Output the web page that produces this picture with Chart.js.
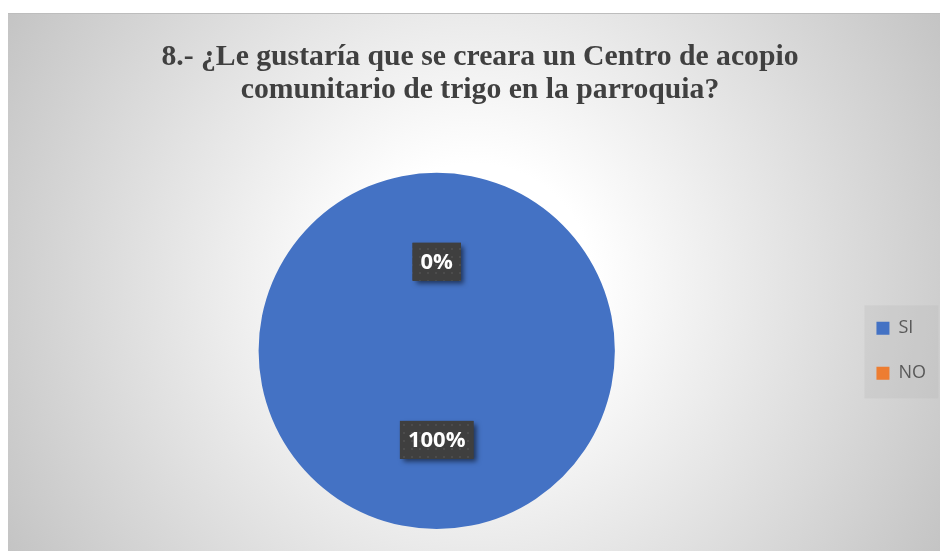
<!DOCTYPE html>
<html lang="es">
<head>
<meta charset="utf-8">
<title>Centro de acopio comunitario de trigo</title>
<script src="https://cdn.jsdelivr.net/npm/chart.js@4.4.1/dist/chart.umd.min.js"></script>
<style>
  html, body { margin: 0; padding: 0; background: #fff; }
  body { width: 940px; height: 551px; position: relative; overflow: hidden; }
  .chart-box {
    position: absolute; left: 8px; top: 13px; width: 932px; height: 538px;
    background: radial-gradient(circle farthest-corner at 50% 50%, #ffffff 0%, #ffffff 22%, #c4c4c4 100%);
    box-shadow: inset 0 1px 0 #bdbdbd;
  }
  canvas { display: block; }
</style>
</head>
<body>
<div class="chart-box">
  <canvas id="chartPie" width="932" height="538"></canvas>
</div>

<script>
/* ===== Data ===== */
const TITLE_LINES = ['8.- ¿Le gustaría que se creara un Centro de acopio', 'comunitario de trigo en la parroquia?'];
const CATEGORIES  = ['SI', 'NO'];
const VALUES      = [100, 0];
const COLORS      = ['#4472C4', '#ED7D31'];


/* ===== Dotted label background pattern ===== */
function makeDotPattern(ctx) {
  const p = document.createElement('canvas');
  p.width = 8; p.height = 8;
  const pc = p.getContext('2d');
  pc.fillStyle = '#3f3f3f';
  pc.fillRect(0, 0, 8, 8);
  pc.fillStyle = '#4c4c4c';
  pc.fillRect(3, 3, 2, 2);
  return ctx.createPattern(p, 'repeat');
}


/* ===== Plugin: legend frame ===== */
const legendFrame = {
  id: 'legendFrame',
  beforeDraw(chart) {
    const lg = chart.legend;
    if (!lg || !lg.legendHitBoxes.length) {return;}
    const boxes = lg.legendHitBoxes;
    const first = boxes[0];
    const last  = boxes[boxes.length - 1];
    const { ctx } = chart;
    ctx.save();
    ctx.fillStyle = 'rgba(180,180,180,0.25)';
    ctx.fillRect(first.left - 12, first.top - 14, 74, (last.top + last.height) - first.top + 30);
    ctx.restore();
  },
};


/* ===== Plugin: data labels (value + %) ===== */
const pctLabels = {
  id: 'pctLabels',
  afterDatasetsDraw(chart) {
    const { ctx } = chart;
    const meta = chart.getDatasetMeta(0);
    const total = VALUES.reduce((a, b) => a + b, 0);
    const pattern = makeDotPattern(ctx);
    ctx.save();
    ctx.font = 'bold 22px "Open Sans", sans-serif';
    ctx.textAlign = 'center';
    ctx.textBaseline = 'middle';
    meta.data.forEach((arc, i) => {
      const pos = arc.tooltipPosition();
      const txt = Math.round(VALUES[i] / total * 100) + '%';
      const w = ctx.measureText(txt).width + 16;
      const h = 38;
      const x = pos.x - w / 2;
      const y = pos.y - h / 2;
      ctx.save();
      ctx.shadowColor = 'rgba(0,0,0,0.55)';
      ctx.shadowBlur = 5;
      ctx.shadowOffsetX = 3;
      ctx.shadowOffsetY = 3;
      ctx.fillStyle = '#404040';
      ctx.fillRect(x, y, w, h);
      ctx.restore();
      ctx.fillStyle = pattern;
      ctx.fillRect(x, y, w, h);
      ctx.fillStyle = '#ffffff';
      ctx.fillText(txt, pos.x, pos.y + 1);
    });
    ctx.restore();
  },
};


/* ===== Chart ===== */
new Chart(document.getElementById('chartPie').getContext('2d'), {
  type: 'pie',
  data: {
    labels: CATEGORIES,
    datasets: [{
      data: VALUES,
      backgroundColor: COLORS,
      borderWidth: 0,
    }],
  },
  options: {
    responsive: false,
    animation: false,
    layout: { padding: { left: 16, right: 4, top: 0, bottom: 22 } },
    plugins: {
      title: {
        display: true,
        text: TITLE_LINES,
        color: '#404040',
        font: { family: '"Liberation Serif", "Times New Roman", serif', size: 29.7, weight: 'bold', lineHeight: 1.14 },
        padding: { top: 27, bottom: 65 },
      },
      legend: {
        position: 'right',
        fullSize: false,
        labels: {
          boxWidth: 13,
          boxHeight: 13,
          padding: 27,
          color: '#595959',
          font: { family: '"Open Sans", sans-serif', size: 18 },
        },
      },
      tooltip: { enabled: false },
    },
  },
  plugins: [legendFrame, pctLabels],
});
</script>
</body>
</html>
